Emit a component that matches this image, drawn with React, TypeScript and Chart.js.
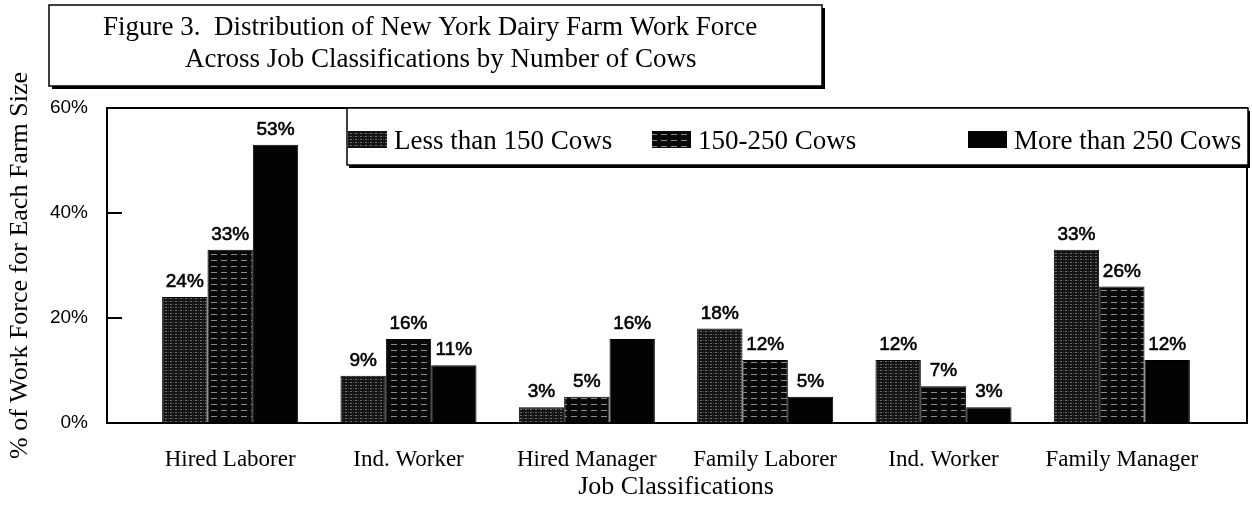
import React, { useEffect, useRef } from "react";
import { Chart, registerables } from "chart.js";

Chart.register(...registerables);

// ---------- data ----------
const categories = [
  "Hired Laborer",
  "Ind. Worker",
  "Hired Manager",
  "Family Laborer",
  "Ind. Worker",
  "Family Manager",
];
const seriesNames = ["Less than 150 Cows", "150-250 Cows", "More than 250 Cows"];
const lessThan150 = [24, 9, 3, 18, 12, 33];
const from150to250 = [33, 16, 5, 12, 7, 26];
const moreThan250 = [53, 11, 16, 5, 3, 12];
const yTickValues = [0, 20, 40, 60];
const titleLines = [
  "Figure 3.  Distribution of New York Dairy Farm Work Force",
  "Across Job Classifications by Number of Cows",
];
const yAxisTitle = "% of Work Force for Each Farm Size";
const xAxisTitle = "Job Classifications";

// ---------- styles ----------
const SERIF = '"Liberation Serif", "Times New Roman", serif';
const SANS = '"Liberation Sans", Arial, sans-serif';

function makePattern(kind: number): CanvasPattern | string {
  const c = document.createElement("canvas");
  const ctx = c.getContext("2d");
  if (!ctx) return "#000";
  if (kind === 0) {
    c.width = 5;
    c.height = 3;
    ctx.fillStyle = "#141414";
    ctx.fillRect(0, 0, 5, 3);
    ctx.fillStyle = "#6e6e6e";
    ctx.fillRect(0, 1, 2, 1);
    ctx.fillStyle = "#3c3c3c";
    ctx.fillRect(3, 1, 1, 1);
  } else if (kind === 1) {
    c.width = 10;
    c.height = 6;
    ctx.fillStyle = "#080808";
    ctx.fillRect(0, 0, 10, 6);
    ctx.fillStyle = "#8a8a8a";
    ctx.fillRect(1, 2, 6, 1);
  } else {
    c.width = 2;
    c.height = 2;
    ctx.fillStyle = "#030303";
    ctx.fillRect(0, 0, 2, 2);
  }
  return ctx.createPattern(c, "repeat") || "#000";
}

const overlayPlugin = {
  id: "overlay",
  afterDraw(chart: any) {
    const { ctx, chartArea, scales } = chart;
    const y = scales.y;
    const maxV = yTickValues[yTickValues.length - 1];
    const minV = yTickValues[0];
    const left = chartArea.left - 34;
    const right = chartArea.right + 36;
    const top = y.getPixelForValue(maxV);
    const bottom = y.getPixelForValue(minV);
    ctx.save();

    // plot frame
    ctx.strokeStyle = "#000";
    ctx.lineWidth = 2;
    ctx.strokeRect(left, top, right - left, bottom - top);

    // inner tick marks
    y.ticks.forEach((t: any) => {
      if (t.value > minV && t.value < maxV) {
        const py = y.getPixelForValue(t.value);
        ctx.beginPath();
        ctx.moveTo(left, py);
        ctx.lineTo(left + 15, py);
        ctx.stroke();
      }
    });

    // value labels
    ctx.fillStyle = "#000";
    ctx.strokeStyle = "#000";
    ctx.lineWidth = 0.6;
    ctx.font = `19px ${SANS}`;
    ctx.textAlign = "center";
    ctx.textBaseline = "alphabetic";
    chart.data.datasets.forEach((ds: any, i: number) => {
      const meta = chart.getDatasetMeta(i);
      meta.data.forEach((bar: any, j: number) => {
        const txt = `${ds.data[j]}%`;
        ctx.fillText(txt, bar.x, bar.y - 10);
        ctx.strokeText(txt, bar.x, bar.y - 10);
      });
    });

    // legend box
    const lbL = left + 240;
    const lbR = right + 1;
    const lbT = top;
    const lbB = top + 57;
    ctx.fillStyle = "#000";
    ctx.fillRect(lbL + 2, lbB - 1, lbR - lbL, 4);
    ctx.fillRect(lbR - 1, lbT + 3, 3, lbB - lbT);
    ctx.fillStyle = "#fff";
    ctx.fillRect(lbL, lbT, lbR - lbL, lbB - lbT);
    ctx.lineWidth = 1.5;
    ctx.strokeStyle = "#000";
    ctx.strokeRect(lbL, lbT, lbR - lbL, lbB - lbT);
    const swatchOffsets = [1, 305, 621];
    ctx.font = `27px ${SERIF}`;
    ctx.textAlign = "left";
    chart.data.datasets.forEach((ds: any, i: number) => {
      const sx = lbL + swatchOffsets[i];
      ctx.fillStyle = ds.backgroundColor;
      ctx.fillRect(sx, lbT + 23, 39, 17);
      ctx.fillStyle = "#000";
      ctx.fillText(ds.label, sx + 46, lbT + 41);
    });

    // title box
    const tL = 49, tT = 5, tR = 822, tB = 86;
    ctx.fillStyle = "#000";
    ctx.fillRect(tL + 3, tB - 1, tR - tL, 4);
    ctx.fillRect(tR - 1, tT + 3, 4, tB - tT);
    ctx.fillStyle = "#fff";
    ctx.fillRect(tL, tT, tR - tL, tB - tT);
    ctx.lineWidth = 1.5;
    ctx.strokeRect(tL, tT, tR - tL, tB - tT);
    ctx.fillStyle = "#000";
    ctx.font = `27px ${SERIF}`;
    ctx.textAlign = "left";
    ctx.fillText(titleLines[0], 103, 35);
    ctx.fillText(titleLines[1], 185, 67);

    ctx.restore();
  },
};

export default function App() {
  const ref = useRef<HTMLCanvasElement | null>(null);

  useEffect(() => {
    if (!ref.current) return;
    Chart.defaults.color = "#000";
    const patterns = [makePattern(0), makePattern(1), makePattern(2)];
    const values = [lessThan150, from150to250, moreThan250];
    const chart = new Chart(ref.current, {
      type: "bar",
      data: {
        labels: categories,
        datasets: seriesNames.map((name, i) => ({
          label: name,
          data: values[i],
          backgroundColor: patterns[i] as any,
          borderColor: "#000",
          borderWidth: 1,
          categoryPercentage: 0.763,
          barPercentage: 1,
        })),
      },
      options: {
        animation: false,
        responsive: false,
        devicePixelRatio: 1,
        layout: { padding: { left: 0, right: 41, top: 108, bottom: 0 } },
        plugins: {
          legend: { display: false },
          tooltip: { enabled: false },
          title: { display: false },
        },
        scales: {
          x: {
            grid: { display: false },
            border: { display: false },
            ticks: {
              color: "#000",
              font: { family: SERIF, size: 23 },
              padding: 15,
              maxRotation: 0,
              autoSkip: false,
            },
            title: {
              display: true,
              text: xAxisTitle,
              color: "#000",
              font: { family: SERIF, size: 26 },
              padding: { top: 0, bottom: 2 },
            },
            afterFit: (s: any) => {
              s.height = 82;
            },
          },
          y: {
            min: yTickValues[0],
            max: yTickValues[yTickValues.length - 1],
            grid: { display: false },
            border: { display: false },
            afterBuildTicks: (s: any) => {
              s.ticks = yTickValues.map((v) => ({ value: v }));
            },
            ticks: {
              color: "#000",
              font: { family: SANS, size: 19 },
              padding: 45,
              callback: (v: any) => `${v}%`,
            },
            title: {
              display: true,
              text: yAxisTitle,
              color: "#000",
              font: { family: SERIF, size: 26 },
              padding: { top: 5, bottom: 0 },
            },
            afterFit: (s: any) => {
              s.width = 141;
            },
          },
        },
      },
      plugins: [overlayPlugin],
    });
    return () => chart.destroy();
  }, []);

  return (
    <div
      style={{
        position: "fixed",
        left: 0,
        top: 0,
        width: 1252,
        height: 505,
        background: "#fff",
      }}
    >
      <canvas ref={ref} width={1252} height={505} style={{ width: 1252, height: 505 }} />
    </div>
  );
}
